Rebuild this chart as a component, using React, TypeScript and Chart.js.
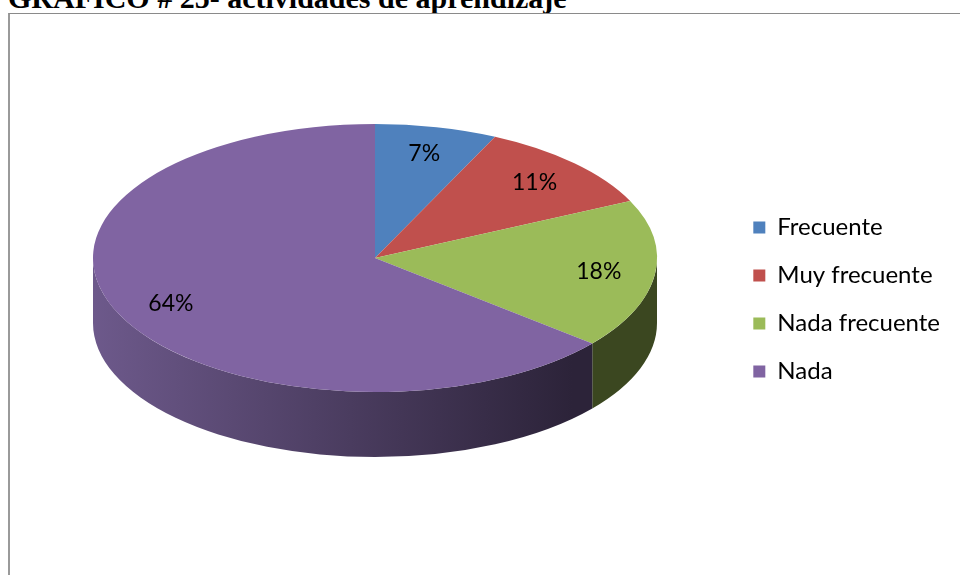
import React, { useEffect, useRef } from 'react';
import { Chart, registerables } from 'chart.js';

Chart.register(...registerables);

const categories = ['Frecuente', 'Muy frecuente', 'Nada frecuente', 'Nada'];
const values = [7, 11, 18, 64];
const percentLabels = ['7%', '11%', '18%', '64%'];
const topColors = ['#4f81bd', '#c0504d', '#9bbb59', '#8064a2'];
const sideLight = ['#3d6594', '#963e3c', '#4d5c2a', '#6d598b'];
const sideDark = ['#27405e', '#5e2725', '#3b4720', '#2c2339'];

const PIE = { cx: 375, cy: 258, rx: 282, ry: 134, depth: 65, labelFrac: 0.8 };

const pie3d = {
  id: 'pie3d',
  beforeDatasetsDraw(chart: any) {
    const ctx = chart.ctx as CanvasRenderingContext2D;
    const meta = chart.getDatasetMeta(0);
    const { cx, cy, rx, ry, depth } = PIE;
    meta.data.forEach((arc: any, i: number) => {
      const { startAngle, endAngle } = arc.getProps(['startAngle', 'endAngle'], true);
      for (const off of [-2 * Math.PI, 0, 2 * Math.PI]) {
        const a = Math.max(startAngle, off);
        const b = Math.min(endAngle, off + Math.PI);
        if (b <= a) continue;
        ctx.save();
        ctx.beginPath();
        ctx.ellipse(cx, cy, rx, ry, 0, a, b, false);
        ctx.ellipse(cx, cy + depth, rx, ry, 0, b, a, true);
        ctx.closePath();
        const g = ctx.createLinearGradient(cx - rx, 0, cx + rx, 0);
        g.addColorStop(0, sideLight[i]);
        g.addColorStop(0.85, sideDark[i]);
        g.addColorStop(1, sideDark[i]);
        ctx.fillStyle = g;
        ctx.fill();
        ctx.restore();
      }
    });
  },
  beforeDatasetDraw(chart: any) {
    const ctx = chart.ctx as CanvasRenderingContext2D;
    const arc = chart.getDatasetMeta(0).data[0] as any;
    const { x, y, outerRadius } = arc.getProps(['x', 'y', 'outerRadius'], true);
    ctx.save();
    ctx.translate(PIE.cx, PIE.cy);
    ctx.scale(PIE.rx / outerRadius, PIE.ry / outerRadius);
    ctx.translate(-x, -y);
  },
  afterDatasetDraw(chart: any) {
    chart.ctx.restore();
  },
  afterDatasetsDraw(chart: any) {
    const ctx = chart.ctx as CanvasRenderingContext2D;
    const meta = chart.getDatasetMeta(0);
    ctx.save();
    ctx.font = '23px Lato';
    ctx.fillStyle = '#000';
    ctx.textAlign = 'center';
    ctx.textBaseline = 'middle';
    meta.data.forEach((arc: any, i: number) => {
      const { startAngle, endAngle } = arc.getProps(['startAngle', 'endAngle'], true);
      const mid = (startAngle + endAngle) / 2;
      const lx = PIE.cx + PIE.labelFrac * PIE.rx * Math.cos(mid);
      const ly = PIE.cy + PIE.labelFrac * PIE.ry * Math.sin(mid);
      ctx.fillText(percentLabels[i], lx, ly);
    });
    ctx.restore();
  },
};

export default function App() {
  const ref = useRef<HTMLCanvasElement | null>(null);
  useEffect(() => {
    if (!ref.current) return;
    const chart = new Chart(ref.current, {
      type: 'pie',
      data: {
        labels: categories,
        datasets: [
          {
            data: values,
            backgroundColor: topColors,
            borderWidth: 0,
            clip: false as any,
          },
        ],
      },
      options: {
        responsive: false,
        maintainAspectRatio: false,
        animation: false,
        devicePixelRatio: 1,
        layout: { padding: { right: 10, top: 24, left: 0, bottom: 0 } },
        plugins: {
          tooltip: { enabled: false },
          legend: {
            position: 'right',
            labels: {
              boxWidth: 12,
              boxHeight: 12,
              padding: 24,
              color: '#000',
              font: { family: 'Lato', size: 24 },
            },
          },
        },
      },
      plugins: [pie3d],
    });
    return () => chart.destroy();
  }, []);

  return (
    <div style={{ position: 'fixed', left: 0, top: 0, width: 960, height: 575, overflow: 'hidden', background: '#fff' }}>
      <div
        style={{
          position: 'absolute',
          left: 8,
          top: -17,
          font: 'bold 30px "Liberation Serif"',
          lineHeight: '30px',
          whiteSpace: 'nowrap',
          color: '#000',
        }}
      >
        GRAFICO # 25- actividades de aprendizaje
      </div>
      <div
        style={{
          position: 'absolute',
          left: 8,
          top: 13,
          width: 1000,
          height: 700,
          borderTop: '1px solid #8a8a8a',
          borderLeft: '2px solid #9a9a9a',
        }}
      />
      <canvas ref={ref} width={960} height={575} style={{ position: 'absolute', left: 0, top: 0 }} />
    </div>
  );
}
